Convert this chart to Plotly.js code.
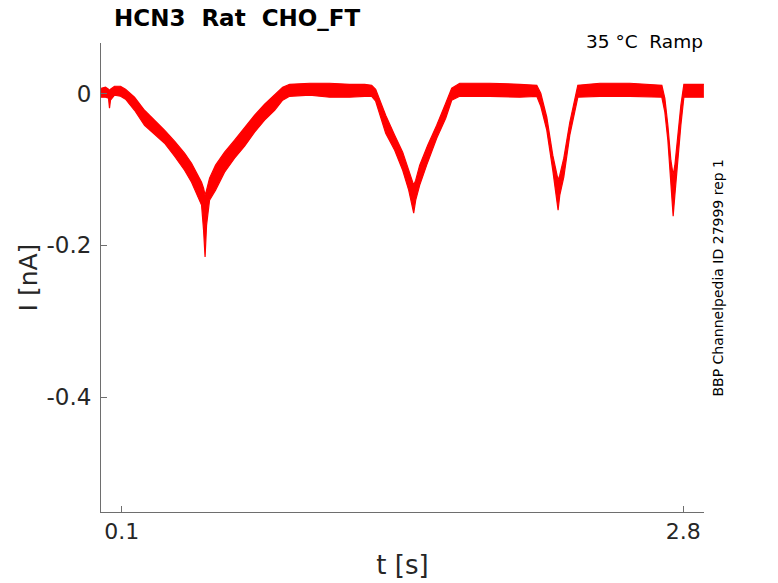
<!DOCTYPE html>
<html>
<head>
<meta charset="utf-8">
<script src="https://cdn.plot.ly/plotly-3.0.1.min.js"></script>
<style>
  html, body { margin: 0; padding: 0; background: #ffffff; }
  #chart { width: 778px; height: 583px; }
</style>
</head>
<body>
<div id="chart"></div>
<script>
const tS = [
  0.0000, 0.0217, 0.0361, 0.0409, 0.0457, 0.0650, 0.0938, 0.1179, 0.1612, 0.2093,
  0.2575, 0.3056, 0.3537, 0.4018, 0.4355, 0.4644, 0.4836, 0.4933, 0.5005, 0.5077,
  0.5221, 0.5510, 0.5943, 0.6424, 0.6906, 0.7387, 0.7868, 0.8350, 0.8735, 0.9071,
  1.0034, 1.0996, 1.1958, 1.2680, 1.3017, 1.3210, 1.3691, 1.4124, 1.4509, 1.4798,
  1.4942, 1.5038, 1.5135, 1.5327, 1.5712, 1.6145, 1.6578, 1.6867, 1.7252, 1.8696,
  2.0140, 2.0958, 2.1150, 2.1439, 2.1727, 2.1872, 2.1983, 2.2064, 2.2257, 2.2546,
  2.2786, 2.2931, 2.3989, 2.5433, 2.6973, 2.7117, 2.7262, 2.7406, 2.7517, 2.7599,
  2.7743, 2.7887, 2.8032, 2.8561, 2.8994
];
const iHi = [
   0.0070,  0.0083,  0.0057,  0.0043,  0.0057,  0.0096,  0.0096,  0.0057, -0.0049, -0.0220,
  -0.0352, -0.0483, -0.0628, -0.0786, -0.0918, -0.1075, -0.1168, -0.1247, -0.1339, -0.1272,
  -0.1114, -0.0943, -0.0772, -0.0614, -0.0443, -0.0286, -0.0141, -0.0009,  0.0083,  0.0122,
   0.0136,  0.0136,  0.0122,  0.0122,  0.0109,  0.0057, -0.0286, -0.0549, -0.0772, -0.1010,
  -0.1141, -0.1207, -0.1141, -0.0944, -0.0681, -0.0418, -0.0128,  0.0070,  0.0136,  0.0136,
   0.0122,  0.0109,  0.0004, -0.0312, -0.0812, -0.1010, -0.1141, -0.1075, -0.0851, -0.0378,
  -0.0062,  0.0109,  0.0136,  0.0136,  0.0109, -0.0062, -0.0417, -0.0878, -0.1075, -0.0944,
  -0.0549, -0.0155,  0.0122,  0.0122,  0.0122
];
const iLo = [
  -0.0049, -0.0049, -0.0062, -0.0193, -0.0088, -0.0022, -0.0036, -0.0075, -0.0220, -0.0418,
  -0.0536, -0.0654, -0.0826, -0.1010, -0.1168, -0.1339, -0.1470, -0.1799, -0.2154, -0.1733,
  -0.1404, -0.1272, -0.1036, -0.0851, -0.0693, -0.0509, -0.0351, -0.0220, -0.0088, -0.0036,
  -0.0022, -0.0049, -0.0049, -0.0036, -0.0036, -0.0101, -0.0522, -0.0746, -0.1010, -0.1273,
  -0.1470, -0.1575, -0.1404, -0.1207, -0.0904, -0.0588, -0.0325, -0.0088, -0.0036, -0.0036,
  -0.0049, -0.0036, -0.0167, -0.0483, -0.1010, -0.1299, -0.1536, -0.1339, -0.1101, -0.0549,
  -0.0246, -0.0049, -0.0036, -0.0036, -0.0049, -0.0246, -0.0614, -0.1207, -0.1615, -0.1338,
  -0.0851, -0.0417, -0.0049, -0.0049, -0.0049
];

const xTickVals = [0.1, 2.8];
const xTickText = ['0.1', '2.8'];
const yTickVals = [0, -0.2, -0.4];
const yTickText = ['0', '-0.2', '-0.4'];

const TRACE_RED = '#ff0000';
const AXIS_GREY = '#6e6e6e';
const TEXT_DARK = '#262626';
const FONT = 'DejaVu Sans, sans-serif';

const traces = [
  {
    x: tS, y: iLo,
    type: 'scatter', mode: 'lines',
    line: { color: TRACE_RED, width: 1.2 },
    hoverinfo: 'skip',
  },
  {
    x: tS, y: iHi,
    type: 'scatter', mode: 'lines',
    fill: 'tonexty', fillcolor: TRACE_RED,
    line: { color: TRACE_RED, width: 1.2 },
    hoverinfo: 'skip',
  },
];

const layout = {
  width: 778,
  height: 583,
  paper_bgcolor: '#ffffff',
  plot_bgcolor: '#ffffff',
  font: { family: FONT, color: TEXT_DARK },
  margin: { l: 101, r: 74, t: 43, b: 71 },
  showlegend: false,
  xaxis: {
    range: [0, 2.9],
    tickvals: xTickVals,
    ticktext: xTickText,
    ticks: 'inside', ticklen: 6, tickcolor: AXIS_GREY,
    showline: true, linecolor: AXIS_GREY, linewidth: 1,
    showgrid: false, zeroline: false,
    tickfont: { size: 22, color: TEXT_DARK },
    title: { text: 't [s]', font: { size: 26, color: TEXT_DARK }, standoff: 12 },
  },
  yaxis: {
    range: [-0.5513, 0.0666],
    tickvals: yTickVals,
    ticktext: yTickText,
    ticks: 'inside', ticklen: 6, tickcolor: AXIS_GREY,
    ticklabelstandoff: 4,
    showline: true, linecolor: AXIS_GREY, linewidth: 1,
    showgrid: false, zeroline: false,
    tickfont: { size: 23, color: TEXT_DARK },
    title: { text: 'I [nA]', font: { size: 25, color: TEXT_DARK }, standoff: 1 },
  },
  annotations: [
    {
      text: '<b>HCN3\u00a0\u00a0Rat\u00a0\u00a0CHO_FT</b>',
      xref: 'paper', yref: 'paper', x: 0.0175, y: 1.053,
      xanchor: 'left', yanchor: 'middle', showarrow: false,
      font: { size: 23, color: '#000000' },
    },
    {
      text: '35 °C\u00a0\u00a0Ramp',
      xref: 'paper', yref: 'paper', x: 1.002, y: 1.004,
      xanchor: 'right', yanchor: 'middle', showarrow: false,
      font: { size: 18.5, color: '#000000' },
    },
    {
      text: 'BBP Channelpedia ID 27999 rep 1',
      xref: 'paper', yref: 'paper', x: 1.0216, y: 0.5,
      xanchor: 'center', yanchor: 'middle', showarrow: false,
      textangle: -90,
      font: { size: 14, color: '#000000' },
    },
  ],
};

Plotly.newPlot('chart', traces, layout, { staticPlot: true, displayModeBar: false });
</script>
</body>
</html>
